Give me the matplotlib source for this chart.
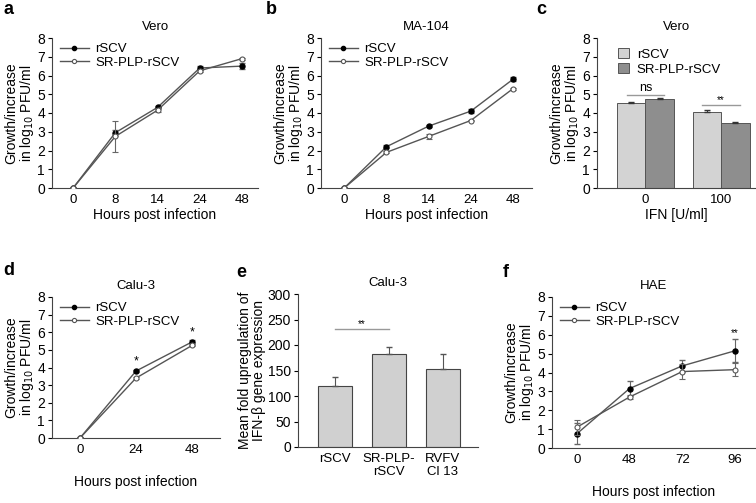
import matplotlib
matplotlib.use('Agg')
import matplotlib.pyplot as plt
from matplotlib.lines import Line2D
import numpy as np

plt.rcParams['font.family'] = ['Liberation Sans', 'DejaVu Sans']
plt.rcParams['font.size'] = 9
plt.rcParams['axes.linewidth'] = 0.8
plt.rcParams['axes.edgecolor'] = '#444444'

# a) Vero growth
a_hours = ['0', '8', '14', '24', '48']
a_rscv = [0, 2.95, 4.3, 6.4, 6.5]
a_rscv_err = [0, 0.15, 0.1, 0.1, 0.15]
a_sr = [0, 2.75, 4.15, 6.25, 6.9]
a_sr_err = [0, 0.85, 0.1, 0.05, 0.05]

# b) MA-104 growth
b_hours = ['0', '8', '14', '24', '48']
b_rscv = [0, 2.2, 3.3, 4.1, 5.8]
b_rscv_err = [0, 0.08, 0.05, 0.1, 0.1]
b_sr = [0, 1.9, 2.75, 3.6, 5.3]
b_sr_err = [0, 0.05, 0.15, 0.05, 0.05]

# c) Vero IFN
c_ifn = ['0', '100']
c_rscv = [4.52, 4.05]
c_rscv_err = [0.08, 0.1]
c_sr = [4.75, 3.45]
c_sr_err = [0.03, 0.06]

# d) Calu-3 growth
d_hours = ['0', '24', '48']
d_rscv = [0, 3.8, 5.45]
d_rscv_err = [0, 0.08, 0.1]
d_sr = [0, 3.4, 5.25]
d_sr_err = [0, 0.05, 0.05]

# e) IFN-beta upregulation
e_virus = ['rSCV', 'SR-PLP-\nrSCV', 'RVFV\nCl 13']
e_fold = [120, 182, 153]
e_fold_err = [18, 15, 30]

# f) HAE growth
f_hours = ['0', '48', '72', '96']
f_rscv = [0.75, 3.15, 4.35, 5.15]
f_rscv_err = [0.55, 0.4, 0.3, 0.6]
f_sr = [1.1, 2.7, 4.05, 4.15]
f_sr_err = [0.4, 0.1, 0.4, 0.35]

W, H = 756, 503
fig = plt.figure(figsize=(W / 100, H / 100), dpi=100)

def px_axes(left, top, right, bottom):
    return fig.add_axes([left / W, 1 - bottom / H, (right - left) / W, (bottom - top) / H])

def letter(x, y, s):
    fig.text(x / W, 1 - y / H, s, fontsize=13, fontweight='bold', ha='left', va='top')

ylab = 'Growth/increase\nin log$_{10}$ PFU/ml'
line_c = '#555555'
err_c = '#666666'

def style(ax, title):
    for s in ['top', 'right']:
        ax.spines[s].set_visible(False)
    ax.tick_params(axis='y', length=3, width=0.8, direction='out', pad=2, labelsize=10)
    ax.tick_params(axis='x', length=0, pad=4, labelsize=9.5)
    ax.set_title(title, fontsize=9.5, pad=6, fontweight='normal')

def growth(ax, hours, r, re, s, se, title, xlim):
    x = np.arange(len(hours))
    ax.errorbar(x, r, yerr=re, color=line_c, lw=1, ecolor=err_c, elinewidth=0.8, capsize=2.5,
                marker='o', ms=3.6, mfc='black', mec='black', zorder=3)
    ax.errorbar(x, s, yerr=se, color=line_c, lw=1, ecolor=err_c, elinewidth=0.8, capsize=2.5,
                marker='o', ms=3.6, mfc='white', mec='#555555', mew=0.8, zorder=4)
    ax.set_xticks(x)
    ax.set_xticklabels(hours)
    ax.set_xlim(*xlim)
    ax.set_ylim(0, 8)
    ax.set_yticks(range(9))
    ax.set_xlabel('Hours post infection', fontsize=10, labelpad=2)
    ax.set_ylabel(ylab, fontsize=10, labelpad=1, linespacing=1.0)
    handles = [Line2D([], [], color=line_c, lw=1, marker='o', ms=3, mfc='black', mec='black'),
               Line2D([], [], color=line_c, lw=1, marker='o', ms=3, mfc='white', mec='#555555', mew=0.8)]
    ax.legend(handles, ['rSCV', 'SR-PLP-rSCV'], loc='upper left', bbox_to_anchor=(0.0, 1.02),
              frameon=False, fontsize=9.5, handlelength=2.2, handletextpad=0.5,
              labelspacing=0.1, borderaxespad=0.2)
    style(ax, title)

# a
ax = px_axes(52, 38, 258, 188)
growth(ax, a_hours, a_rscv, a_rscv_err, a_sr, a_sr_err, 'Vero', (-0.5, 4.38))
letter(3, 1, 'a')

# b
ax = px_axes(321, 38, 532, 188)
growth(ax, b_hours, b_rscv, b_rscv_err, b_sr, b_sr_err, 'MA-104', (-0.55, 4.45))
letter(266, 1, 'b')

# c
ax = px_axes(597, 38, 756, 188)
x = np.arange(len(c_ifn))
bw = 0.375
ax.bar(x - bw / 2, c_rscv, bw, yerr=[[0] * len(x), c_rscv_err], color='#d3d3d3',
       edgecolor='#555555', lw=0.7,
       error_kw=dict(ecolor='#333333', elinewidth=0.8, capsize=2.5), label='rSCV')
ax.bar(x + bw / 2, c_sr, bw, yerr=[[0] * len(x), c_sr_err], color='#8e8e8e',
       edgecolor='#555555', lw=0.7,
       error_kw=dict(ecolor='#333333', elinewidth=0.8, capsize=2.5), label='SR-PLP-rSCV')
ax.set_xticks(x)
ax.set_xticklabels(c_ifn)
ax.set_xlim(-0.64, 1.46)
ax.set_ylim(0, 8)
ax.set_yticks(range(9))
ax.set_xlabel('IFN [U/ml]', fontsize=10, labelpad=2)
ax.set_ylabel(ylab, fontsize=10, labelpad=1, linespacing=1.0)
ax.legend(loc='upper left', bbox_to_anchor=(0.06, 1.01), frameon=False, fontsize=9.5,
          handlelength=0.8, handleheight=0.8, handletextpad=0.6, labelspacing=0.15)
ax.plot([x[0] - 0.25, x[0] + 0.25], [4.97, 4.97], color='#999999', lw=1)
ax.text(x[0], 5.0, 'ns', ha='center', va='bottom', fontsize=9)
ax.plot([x[1] - 0.25, x[1] + 0.25], [4.42, 4.42], color='#999999', lw=1)
ax.text(x[1], 4.4, '**', ha='center', va='bottom', fontsize=7)
style(ax, 'Vero')
letter(536, 1, 'c')

# d
ax = px_axes(52, 297, 220, 438)
growth(ax, d_hours, d_rscv, d_rscv_err, d_sr, d_sr_err, 'Calu-3', (-0.5, 2.5))
ax.xaxis.labelpad = 14
for i in [1, 2]:
    ax.text(i, d_rscv[i] + d_rscv_err[i] + 0.1, '*', ha='center', va='bottom', fontsize=9)
letter(3, 262, 'd')

# e
ax = px_axes(298, 294, 478, 447)
x = np.arange(len(e_virus))
ax.bar(x, e_fold, 0.62, yerr=[[0] * len(x), e_fold_err], color='#d0d0d0',
       edgecolor='#444444', lw=0.8,
       error_kw=dict(ecolor='#555555', elinewidth=0.8, capsize=2.5))
ax.set_xticks(x)
ax.set_xticklabels(e_virus, linespacing=1.2)
ax.set_xlim(-0.68, 2.65)
ax.set_ylim(0, 300)
ax.set_yticks(range(0, 301, 50))
ax.set_ylabel('Mean fold upregulation of\nIFN-β gene expression', fontsize=10, labelpad=1,
              linespacing=1.0)
ax.plot([x[0], x[1]], [232, 232], color='#999999', lw=1)
ax.text((x[0] + x[1]) / 2, 232, '**', ha='center', va='bottom', fontsize=7)
style(ax, 'Calu-3')
letter(236, 264, 'e')

# f
ax = px_axes(552, 297, 755, 448)
growth(ax, f_hours, f_rscv, f_rscv_err, f_sr, f_sr_err, 'HAE', (-0.47, 3.38))
ax.xaxis.labelpad = 14
ax.text(3, f_rscv[3] + f_rscv_err[3] + 0.05, '**', ha='center', va='bottom', fontsize=7)
letter(503, 264, 'f')

fig.savefig('out.png', dpi=100)
